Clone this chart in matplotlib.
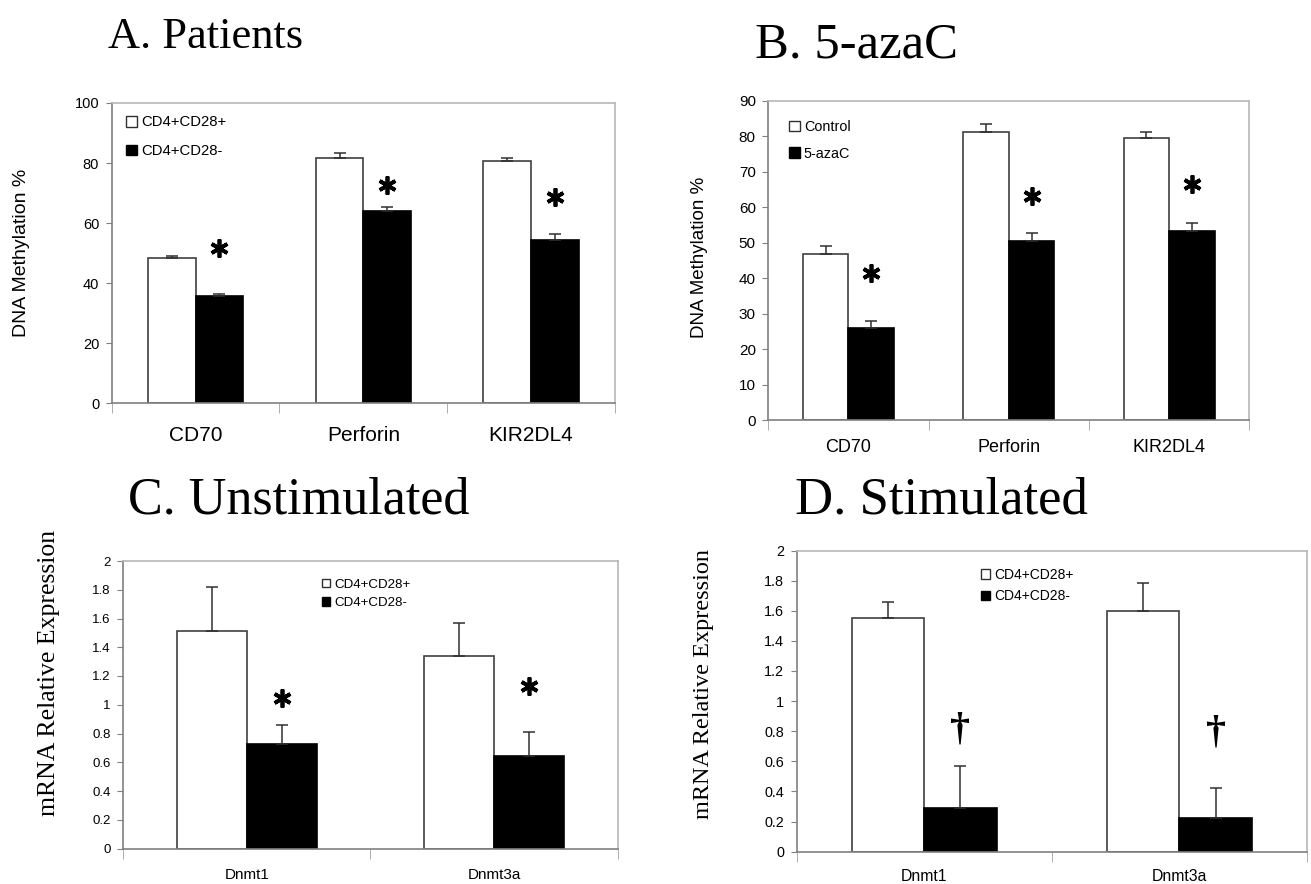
import numpy as np
import matplotlib
matplotlib.use("Agg")
import matplotlib.pyplot as plt
from matplotlib.patches import Patch

W, H = 1311, 884
SANS = "Liberation Sans"
SERIF = "Liberation Serif"

# A. Patients
a_genes = ["CD70", "Perforin", "KIR2DL4"]
a_pos = [48.4, 81.8, 80.8]
a_pos_err = [0.6, 1.6, 0.9]
a_neg = [35.7, 64.2, 54.3]
a_neg_err = [0.55, 1.3, 2.0]
a_marks = [51.6, 72.6, 68.7]

# B. 5-azaC
b_genes = ["CD70", "Perforin", "KIR2DL4"]
b_ctrl = [46.9, 81.3, 79.6]
b_ctrl_err = [2.1, 2.2, 1.7]
b_aza = [26.0, 50.5, 53.3]
b_aza_err = [2.1, 2.4, 2.3]
b_marks = [41.5, 63.1, 66.7]

# C. Unstimulated
c_genes = ["Dnmt1", "Dnmt3a"]
c_pos = [1.51, 1.34]
c_pos_err = [0.31, 0.23]
c_neg = [0.725, 0.646]
c_neg_err = [0.136, 0.162]
c_marks = [1.05, 1.13]

# D. Stimulated
d_genes = ["Dnmt1", "Dnmt3a"]
d_pos = [1.55, 1.60]
d_pos_err = [0.106, 0.184]
d_neg = [0.287, 0.221]
d_neg_err = [0.283, 0.203]
d_marks = [0.805, 0.79]

mrna_ticks = ["0", "0.2", "0.4", "0.6", "0.8", "1", "1.2", "1.4", "1.6", "1.8", "2"]


def px_axes(fig, l, t, r, b):
    return fig.add_axes([l / W, 1 - b / H, (r - l) / W, (b - t) / H])


def draw_panel(ax, genes, v1, e1, v2, e2, ymax, ystep, tick_fs, xlab_fs, xpad):
    x = np.arange(len(genes))
    w = 0.284
    ax.bar(x - w / 2, v1, w, color="white", edgecolor="#404040", lw=1.2, zorder=2)
    ax.bar(x + w / 2, v2, w, color="black", edgecolor="black", lw=1.2, zorder=2)
    for xs, v, e in [(x - w / 2, v1, e1), (x + w / 2, v2, e2)]:
        ax.errorbar(xs, v, yerr=[np.zeros(len(v)), e], fmt="none", ecolor="#303030",
                    elinewidth=1.1, capsize=4, capthick=1.1, zorder=3)
    ax.set_xlim(-0.5, len(genes) - 0.5)
    ax.set_ylim(0, ymax)
    ax.set_yticks(np.arange(0, ymax + ystep / 2, ystep))
    ax.set_xticks(x)
    ax.set_xticklabels(genes, fontsize=xlab_fs, family=SANS)
    ax.set_xticks(np.arange(len(genes) + 1) - 0.5, minor=True)
    ax.tick_params(axis="x", which="major", length=0, pad=xpad)
    ax.tick_params(axis="x", which="minor", length=7, color="#a0a0a0")
    ax.tick_params(axis="y", length=4, color="#808080", labelsize=tick_fs, pad=5)
    for lab in ax.get_yticklabels():
        lab.set_family(SANS)
    for s in ["left", "bottom"]:
        ax.spines[s].set_color("#808080")
    for s in ["top", "right"]:
        ax.spines[s].set_color("#b8b8b8")
    for s in ax.spines.values():
        s.set_linewidth(1.2)
    return x + w / 2


def add_legend(ax, labels, fs, sq_px, left_px, top_px, spacing):
    fs_px = fs / 0.72
    handles = [Patch(facecolor="white", edgecolor="#303030", lw=1),
               Patch(facecolor="black", edgecolor="black", lw=1)]
    ax.legend(handles, labels, loc="upper left",
              bbox_to_anchor=(left_px / W, 1 - top_px / H),
              bbox_transform=ax.figure.transFigure, frameon=False,
              prop={"family": SANS, "size": fs}, handlelength=sq_px / fs_px,
              handleheight=sq_px / fs_px, handletextpad=0.3, borderpad=0,
              borderaxespad=0, labelspacing=spacing)


def stars(ax, xs, ys, size):
    ax.plot(xs, ys, ls="none", marker=(6, 2, 0), ms=size, mew=2.7, color="black", zorder=4)


fig = plt.figure(figsize=(W / 100, H / 100), dpi=100)

# Panel A
axA = px_axes(fig, 111.7, 103, 615, 403.3)
xm = draw_panel(axA, a_genes, a_pos, a_pos_err, a_neg, a_neg_err, 100, 20, 10.5, 15, 16)
add_legend(axA, ["CD4+CD28+", "CD4+CD28-"], 10.7, 10.7, 126.3, 115.5, 0.98)
stars(axA, xm, a_marks, 13)
axA.set_ylabel("DNA Methylation %", fontsize=14, family=SANS, va="center")
axA.yaxis.set_label_coords((22 - 111.7) / 503.3, 0.5)

# Panel B
axB = px_axes(fig, 768.3, 101, 1249.3, 420.3)
xm = draw_panel(axB, b_genes, b_ctrl, b_ctrl_err, b_aza, b_aza_err, 90, 10, 11, 13, 13.5)
add_legend(axB, ["Control", "5-azaC"], 10.4, 11, 788.5, 120, 0.89)
stars(axB, xm, b_marks, 13)
axB.set_ylabel("DNA Methylation %", fontsize=13.5, family=SANS, va="center")
axB.yaxis.set_label_coords((699.6 - 768.3) / 481, 0.51)

# Panel C
axC = px_axes(fig, 123.3, 561, 617.6, 848.5)
xm = draw_panel(axC, c_genes, c_pos, c_pos_err, c_neg, c_neg_err, 2, 0.2, 9.5, 11, 14)
axC.set_yticklabels(mrna_ticks, family=SANS)
add_legend(axC, ["CD4+CD28+", "CD4+CD28-"], 9.6, 8.5, 321.5, 578.5, 0.46)
stars(axC, xm, c_marks, 13)
axC.set_ylabel("mRNA Relative Expression", fontsize=18.5, family=SERIF, va="center")
axC.yaxis.set_label_coords((48.6 - 123.3) / 494.3, 0.612)

# Panel D
axD = px_axes(fig, 796.5, 550.5, 1307, 851.7)
xm = draw_panel(axD, d_genes, d_pos, d_pos_err, d_neg, d_neg_err, 2, 0.2, 10.4, 11.3, 12.5)
axD.set_yticklabels(mrna_ticks, family=SANS)
add_legend(axD, ["CD4+CD28+", "CD4+CD28-"], 10, 9, 981, 568, 0.52)
for xi, yi in zip(xm, d_marks):
    axD.text(xi, yi, "\u2020", ha="center", va="center", fontsize=29,
             fontweight="bold", family=SERIF)
axD.set_ylabel("mRNA Relative Expression", fontsize=17.5, family=SERIF, va="center")
axD.yaxis.set_label_coords((703 - 796.5) / 510.5, 0.557)

# Panel titles
fig.text(108 / W, 1 - 48 / H, "A. Patients", fontsize=32, family=SERIF, va="baseline")
fig.text(755 / W, 1 - 58 / H, "B. 5-azaC", fontsize=36.5, family=SERIF, va="baseline")
fig.text(128 / W, 1 - 513 / H, "C. Unstimulated", fontsize=37.5, family=SERIF, va="baseline")
fig.text(795 / W, 1 - 513 / H, "D. Stimulated", fontsize=38, family=SERIF, va="baseline")

fig.savefig("out.png", dpi=100)
